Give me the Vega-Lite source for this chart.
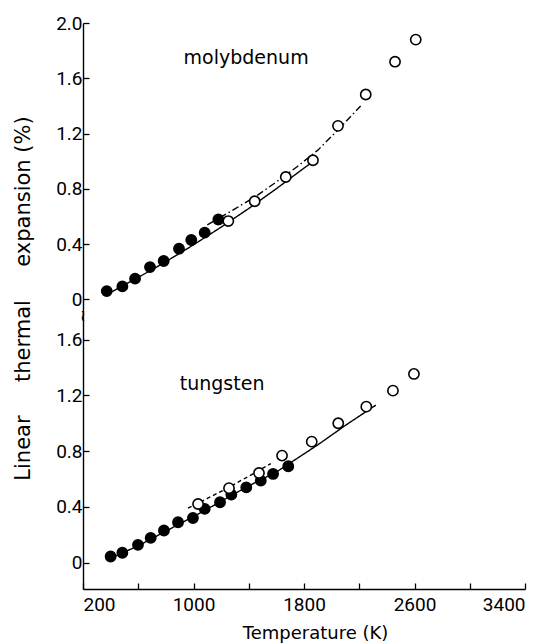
{
  "$schema": "https://vega.github.io/schema/vega-lite/v6.json",
  "padding": {"left": 11, "top": 14, "right": 2, "bottom": 2},
  "autosize": {"type": "pad"},
  "bounds": "flush",
  "spacing": 0,
  "config": {
    "view": {"stroke": null},
    "axis": {
      "grid": false,
      "domainColor": "black",
      "domainWidth": 1.4,
      "tickColor": "black",
      "tickWidth": 1.3,
      "tickSize": -6,
      "labelFont": "Roboto",
      "labelFontSize": 19,
      "labelColor": "black",
      "titleColor": "black",
      "titleFont": "DejaVu Sans",
      "titleFontWeight": "normal"
    }
  },
  "datasets": {
    "points": [
      {"element": "Mo", "kind": "filled", "T": 372, "v": 0.06},
      {"element": "Mo", "kind": "filled", "T": 485, "v": 0.094},
      {"element": "Mo", "kind": "filled", "T": 577, "v": 0.15},
      {"element": "Mo", "kind": "filled", "T": 685, "v": 0.234},
      {"element": "Mo", "kind": "filled", "T": 784, "v": 0.278},
      {"element": "Mo", "kind": "filled", "T": 895, "v": 0.367},
      {"element": "Mo", "kind": "filled", "T": 984, "v": 0.43},
      {"element": "Mo", "kind": "filled", "T": 1081, "v": 0.483},
      {"element": "Mo", "kind": "filled", "T": 1180, "v": 0.578},
      {"element": "Mo", "kind": "open", "T": 1252, "v": 0.567},
      {"element": "Mo", "kind": "open", "T": 1443, "v": 0.71},
      {"element": "Mo", "kind": "open", "T": 1668, "v": 0.886},
      {"element": "Mo", "kind": "open", "T": 1865, "v": 1.007},
      {"element": "Mo", "kind": "open", "T": 2046, "v": 1.256},
      {"element": "Mo", "kind": "open", "T": 2247, "v": 1.483},
      {"element": "Mo", "kind": "open", "T": 2459, "v": 1.72},
      {"element": "Mo", "kind": "open", "T": 2609, "v": 1.88},
      {"element": "W", "kind": "filled", "T": 400, "v": 0.043},
      {"element": "W", "kind": "filled", "T": 485, "v": 0.07},
      {"element": "W", "kind": "filled", "T": 598, "v": 0.127},
      {"element": "W", "kind": "filled", "T": 690, "v": 0.177},
      {"element": "W", "kind": "filled", "T": 786, "v": 0.23},
      {"element": "W", "kind": "filled", "T": 888, "v": 0.289},
      {"element": "W", "kind": "filled", "T": 996, "v": 0.32},
      {"element": "W", "kind": "filled", "T": 1081, "v": 0.385},
      {"element": "W", "kind": "filled", "T": 1192, "v": 0.433},
      {"element": "W", "kind": "filled", "T": 1274, "v": 0.488},
      {"element": "W", "kind": "filled", "T": 1382, "v": 0.54},
      {"element": "W", "kind": "filled", "T": 1487, "v": 0.588},
      {"element": "W", "kind": "filled", "T": 1576, "v": 0.636},
      {"element": "W", "kind": "filled", "T": 1686, "v": 0.691},
      {"element": "W", "kind": "open", "T": 1033, "v": 0.42},
      {"element": "W", "kind": "open", "T": 1257, "v": 0.534},
      {"element": "W", "kind": "open", "T": 1474, "v": 0.643},
      {"element": "W", "kind": "open", "T": 1641, "v": 0.768},
      {"element": "W", "kind": "open", "T": 1856, "v": 0.868},
      {"element": "W", "kind": "open", "T": 2048, "v": 1.0},
      {"element": "W", "kind": "open", "T": 2251, "v": 1.119},
      {"element": "W", "kind": "open", "T": 2444, "v": 1.234},
      {"element": "W", "kind": "open", "T": 2596, "v": 1.354}
    ],
    "curves": [
      {"element": "Mo", "curve": "solid", "T": 380, "v": 0.04},
      {"element": "Mo", "curve": "solid", "T": 600, "v": 0.159},
      {"element": "Mo", "curve": "solid", "T": 800, "v": 0.273},
      {"element": "Mo", "curve": "solid", "T": 1000, "v": 0.395},
      {"element": "Mo", "curve": "solid", "T": 1200, "v": 0.523},
      {"element": "Mo", "curve": "solid", "T": 1400, "v": 0.658},
      {"element": "Mo", "curve": "solid", "T": 1600, "v": 0.801},
      {"element": "Mo", "curve": "solid", "T": 1800, "v": 0.95},
      {"element": "Mo", "curve": "solid", "T": 1870, "v": 1.0},
      {"element": "Mo", "curve": "dashdot", "T": 1100, "v": 0.54},
      {"element": "Mo", "curve": "dashdot", "T": 1300, "v": 0.655},
      {"element": "Mo", "curve": "dashdot", "T": 1450, "v": 0.745},
      {"element": "Mo", "curve": "dashdot", "T": 1600, "v": 0.85},
      {"element": "Mo", "curve": "dashdot", "T": 1750, "v": 0.96},
      {"element": "Mo", "curve": "dashdot", "T": 1900, "v": 1.08},
      {"element": "Mo", "curve": "dashdot", "T": 2050, "v": 1.23},
      {"element": "Mo", "curve": "dashdot", "T": 2210, "v": 1.4},
      {"element": "W", "curve": "solid", "T": 420, "v": 0.04},
      {"element": "W", "curve": "solid", "T": 600, "v": 0.12},
      {"element": "W", "curve": "solid", "T": 800, "v": 0.225},
      {"element": "W", "curve": "solid", "T": 1000, "v": 0.33},
      {"element": "W", "curve": "solid", "T": 1200, "v": 0.44},
      {"element": "W", "curve": "solid", "T": 1400, "v": 0.55},
      {"element": "W", "curve": "solid", "T": 1600, "v": 0.65},
      {"element": "W", "curve": "solid", "T": 1700, "v": 0.715},
      {"element": "W", "curve": "solid", "T": 1900, "v": 0.845},
      {"element": "W", "curve": "solid", "T": 2100, "v": 0.985},
      {"element": "W", "curve": "solid", "T": 2320, "v": 1.13},
      {"element": "W", "curve": "dashed", "T": 960, "v": 0.39},
      {"element": "W", "curve": "dashed", "T": 1100, "v": 0.46},
      {"element": "W", "curve": "dashed", "T": 1257, "v": 0.54},
      {"element": "W", "curve": "dashed", "T": 1400, "v": 0.62},
      {"element": "W", "curve": "dashed", "T": 1560, "v": 0.71}
    ]
  },
  "vconcat": [
    {
      "width": 442,
      "height": 293,
      "layer": [
        {
          "data": {"name": "curves"},
          "transform": [{"filter": "datum.element == 'Mo'"}],
          "mark": {"type": "line", "color": "black", "strokeWidth": 1.4},
          "encoding": {
            "x": {"field": "T", "type": "quantitative", "scale": {"domain": [200, 3400], "nice": false}, "axis": null},
            "y": {"field": "v", "type": "quantitative", "scale": {"domain": [-0.12, 2.0], "nice": false},
              "axis": {"title": null, "values": [0, 0.2, 0.4, 0.6, 0.8, 1.0, 1.2, 1.4, 1.6, 1.8, 2.0],
                "labelExpr": "round(datum.value*10) % 4 == 0 ? (datum.value == 0 ? '0' : format(datum.value, '.1f')) : ''",
                "labelPadding": 7}},
            "strokeDash": {"field": "curve", "type": "nominal", "scale": {"domain": ["solid", "dashdot", "dashed"], "range": [[1, 0], [7, 3, 1.5, 3], [4, 3]]}, "legend": null}
          }
        },
        {
          "data": {"name": "points"},
          "transform": [{"filter": "datum.element == 'Mo'"}],
          "mark": {"type": "point", "shape": "circle", "filled": true, "stroke": "black", "strokeWidth": 1.6, "size": 105, "opacity": 1},
          "encoding": {
            "x": {"field": "T", "type": "quantitative"},
            "y": {"field": "v", "type": "quantitative"},
            "fill": {"field": "kind", "type": "nominal", "scale": {"domain": ["filled", "open"], "range": ["black", "white"]}, "legend": null}
          }
        },
        {
          "data": {"values": [{}]},
          "mark": {"type": "text", "text": "molybdenum", "font": "DejaVu Sans", "fontSize": 19, "color": "black"},
          "encoding": {"x": {"datum": 1381}, "y": {"datum": 1.75}}
        },
        {
          "data": {"values": [{}]},
          "mark": {"type": "text", "text": "~", "angle": 90, "font": "DejaVu Sans", "fontSize": 16, "color": "black"},
          "encoding": {"x": {"datum": 200}, "y": {"datum": -0.12}}
        }
      ]
    },
    {
      "width": 442,
      "height": 273,
      "layer": [
        {
          "data": {"name": "curves"},
          "transform": [{"filter": "datum.element == 'W'"}],
          "mark": {"type": "line", "color": "black", "strokeWidth": 1.4},
          "encoding": {
            "x": {"field": "T", "type": "quantitative", "scale": {"domain": [200, 3400], "nice": false},
              "axis": {"title": "Temperature (K)", "values": [200, 600, 1000, 1400, 1800, 2200, 2600, 3000, 3400], "format": "d",
                "labelExpr": "(datum.value - 200) % 800 == 0 ? datum.label : ''",
                "labelPadding": 12, "titleFontSize": 18, "titleX": 232, "titleY": 49, "titleAlign": "center", "titleBaseline": "alphabetic"}},
            "y": {"field": "v", "type": "quantitative", "scale": {"domain": [-0.19, 1.77], "nice": false},
              "axis": {"title": "Linear\u00a0\u00a0\u00a0\u00a0\u00a0thermal\u00a0\u00a0\u00a0\u00a0\u00a0expansion (%)",
                "values": [0, 0.2, 0.4, 0.6, 0.8, 1.0, 1.2, 1.4, 1.6],
                "labelExpr": "round(datum.value*10) % 4 == 0 ? (datum.value == 0 ? '0' : format(datum.value, '.1f')) : ''",
                "labelPadding": 7, "titleFontSize": 21, "titleAngle": 270, "titleAlign": "center", "titleBaseline": "alphabetic", "titleX": -54, "titleY": -18}},
            "strokeDash": {"field": "curve", "type": "nominal", "scale": {"domain": ["solid", "dashdot", "dashed"], "range": [[1, 0], [7, 3, 1.5, 3], [4, 3]]}, "legend": null}
          }
        },
        {
          "data": {"name": "points"},
          "transform": [{"filter": "datum.element == 'W'"}],
          "mark": {"type": "point", "shape": "circle", "filled": true, "stroke": "black", "strokeWidth": 1.6, "size": 105, "opacity": 1},
          "encoding": {
            "x": {"field": "T", "type": "quantitative"},
            "y": {"field": "v", "type": "quantitative"},
            "fill": {"field": "kind", "type": "nominal", "scale": {"domain": ["filled", "open"], "range": ["black", "white"]}, "legend": null}
          }
        },
        {
          "data": {"values": [{}]},
          "mark": {"type": "text", "text": "tungsten", "font": "DejaVu Sans", "fontSize": 19, "color": "black"},
          "encoding": {"x": {"datum": 1207}, "y": {"datum": 1.28}}
        }
      ]
    }
  ]
}
